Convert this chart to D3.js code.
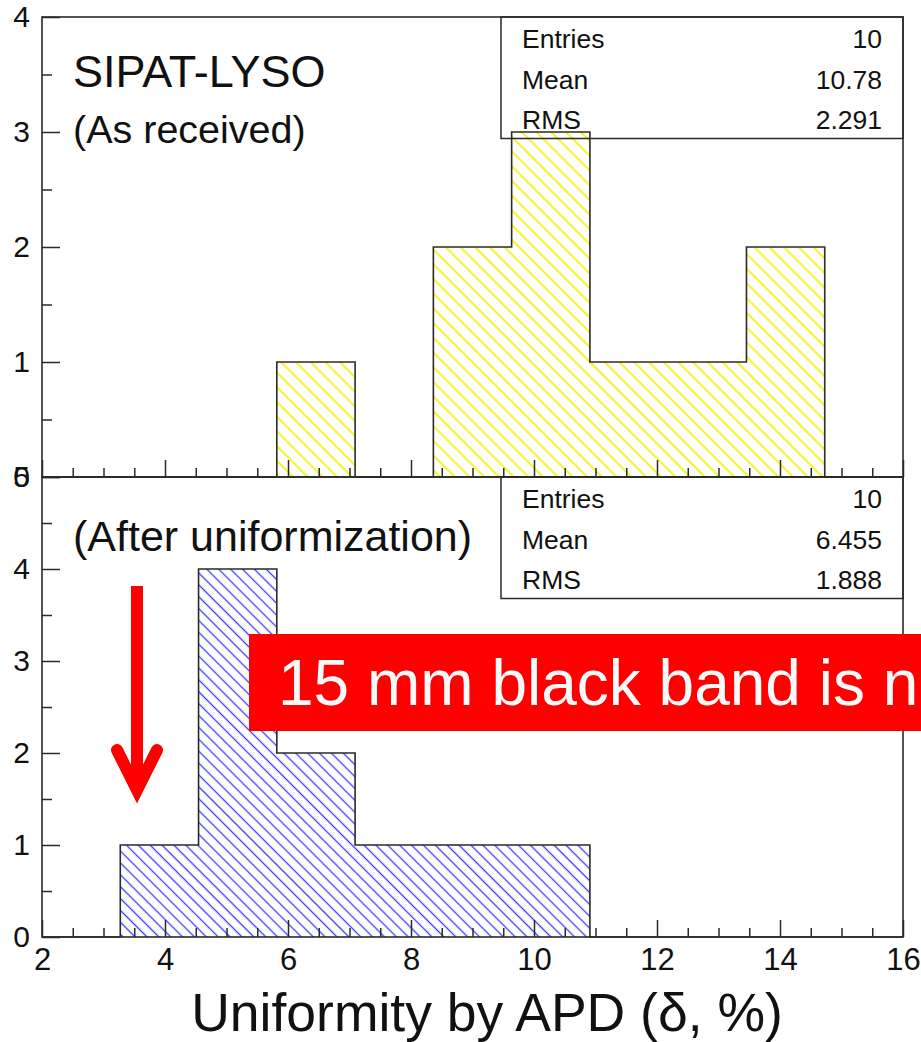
<!DOCTYPE html>
<html><head><meta charset="utf-8">
<script src="https://cdn.jsdelivr.net/npm/d3@7"></script>
<style>
body{margin:0;background:#fff}
svg{display:block;font-family:"Liberation Sans",Arial,Helvetica,sans-serif}
</style>
</head><body><svg id="chart" width="921" height="1042"></svg>
<script>
// Histogram binning (11 equal bins over the axis range)
const binLow = 2, binHigh = 16, binCount = 11;
// Bin contents
const countsAsReceived = [0, 0, 0, 1, 0, 2, 3, 1, 1, 2, 0];
const countsAfter      = [0, 1, 4, 2, 1, 1, 1, 0, 0, 0, 0];
// Statistics boxes
const statsAsReceived = [["Entries", "10"], ["Mean", "10.78"], ["RMS", "2.291"]];
const statsAfter      = [["Entries", "10"], ["Mean", "6.455"], ["RMS", "1.888"]];
// Tick values
const xMajorTicks = [2, 4, 6, 8, 10, 12, 14, 16];
const yTopMajor = [0, 1, 2, 3, 4];
const yBottomMajor = [0, 1, 2, 3, 4, 5];
// Texts
const titleTop = ["SIPAT-LYSO", "(As received)"];
const titleBottom = "(After uniformization)";
const xTitle = "Uniformity by APD (\u03b4, %)";
const bannerText = "15 mm black band is n";

const svg = d3.select("#chart");
const left = 42, right = 903;
const topY0 = 17, topY1 = 477, botY0 = 477, botY1 = 937;
const frameColor = "#2a2a2a";

const x = d3.scaleLinear().domain([binLow, binHigh]).range([left, right]);
const yTop = d3.scaleLinear().domain([0, 4]).range([topY1, topY0]);
const yBot = d3.scaleLinear().domain([0, 5]).range([botY1, botY0]);

const binWidth = (binHigh - binLow) / binCount;
const edges = d3.range(binCount + 1).map(i => binLow + i * binWidth);

// hatch patterns
const defs = svg.append("defs");
function hatch(id, color, spacing, width) {
  const p = defs.append("pattern").attr("id", id)
    .attr("patternUnits", "userSpaceOnUse")
    .attr("width", spacing).attr("height", spacing)
    .attr("patternTransform", "rotate(-45)");
  p.append("line").attr("x1", spacing / 2).attr("y1", -1).attr("x2", spacing / 2).attr("y2", spacing + 1)
    .attr("stroke", color).attr("stroke-width", width);
}
hatch("hatchYellow", "#f2f200", 10.4, 1.7);
hatch("hatchBlue", "#3a3aff", 8.4, 1.3);

function drawHist(counts, y, fillId) {
  const pts = counts.map((c, i) => [edges[i], c]).concat([[edges[binCount], 0]]);
  const area = d3.area().curve(d3.curveStepAfter)
    .x(d => x(d[0])).y0(y(0)).y1(d => y(d[1]));
  const line = d3.line().curve(d3.curveStepAfter)
    .x(d => x(d[0])).y(d => y(d[1]));
  svg.append("path").datum(pts).attr("d", area).attr("fill", `url(#${fillId})`);
  svg.append("path").datum(pts).attr("d", line).attr("fill", "none")
    .attr("stroke", frameColor).attr("stroke-width", 1.6);
}

function statsBox(rows, yTopPx) {
  const bx = 501, bw = right - bx, rowH = 40.5;
  svg.append("rect").attr("x", bx).attr("y", yTopPx).attr("width", bw).attr("height", rowH * 3)
    .attr("fill", "none").attr("stroke", frameColor).attr("stroke-width", 1.5);
  rows.forEach((r, i) => {
    const by = yTopPx + 31 + i * rowH;
    svg.append("text").attr("x", bx + 21).attr("y", by).attr("font-size", 26.5).attr("fill", "#111").text(r[0]);
    svg.append("text").attr("x", right - 21).attr("y", by).attr("font-size", 26.5).attr("fill", "#111")
      .attr("text-anchor", "end").text(r[1]);
  });
}

function styleAxis(g) {
  g.select(".domain").remove();
  g.selectAll(".tick line").attr("stroke", frameColor).attr("stroke-width", 1.5);
  g.selectAll(".tick text").attr("fill", "#111").attr("font-family", "'Liberation Sans',Arial,sans-serif");
}

function halfSteps(lo, hi) { return d3.range(lo * 2, hi * 2 + 1).map(v => v / 2); }

// ---------- upper panel ----------
drawHist(countsAsReceived, yTop, "hatchYellow");
svg.append("g").attr("transform", `translate(${left},0)`)
  .call(d3.axisLeft(yTop).tickValues(halfSteps(0, 4).filter(v => v % 1)).tickSize(-10).tickFormat(""))
  .call(styleAxis);
svg.append("g").attr("transform", `translate(${left},0)`)
  .call(d3.axisLeft(yTop).tickValues(yTopMajor).tickSize(-18).tickPadding(12).tickFormat(d3.format("d")))
  .call(styleAxis).call(g => g.selectAll(".tick text").attr("font-size", 30));
svg.append("g").attr("transform", `translate(0,${topY1})`)
  .call(d3.axisBottom(x).tickValues(halfSteps(2, 16).filter(v => v % 2)).tickSize(-9).tickFormat(""))
  .call(styleAxis);
svg.append("g").attr("transform", `translate(0,${topY1})`)
  .call(d3.axisBottom(x).tickValues(xMajorTicks).tickSize(-17).tickFormat(""))
  .call(styleAxis);
svg.append("rect").attr("x", left).attr("y", topY0).attr("width", right - left).attr("height", topY1 - topY0)
  .attr("fill", "none").attr("stroke", frameColor).attr("stroke-width", 1.6);
statsBox(statsAsReceived, topY0);
svg.append("text").attr("x", 73).attr("y", 87).attr("font-size", 45).attr("fill", "#111").text(titleTop[0]);
svg.append("text").attr("x", 73).attr("y", 143).attr("font-size", 39.5).attr("fill", "#111").text(titleTop[1]);

// ---------- lower panel ----------
drawHist(countsAfter, yBot, "hatchBlue");
svg.append("g").attr("transform", `translate(${left},0)`)
  .call(d3.axisLeft(yBot).tickValues(halfSteps(0, 5).filter(v => v % 1)).tickSize(-10).tickFormat(""))
  .call(styleAxis);
svg.append("g").attr("transform", `translate(${left},0)`)
  .call(d3.axisLeft(yBot).tickValues(yBottomMajor).tickSize(-18).tickPadding(12).tickFormat(d3.format("d")))
  .call(styleAxis).call(g => g.selectAll(".tick text").attr("font-size", 30));
svg.append("g").attr("transform", `translate(0,${botY1})`)
  .call(d3.axisBottom(x).tickValues(halfSteps(2, 16).filter(v => v % 2)).tickSize(-9).tickFormat(""))
  .call(styleAxis);
svg.append("g").attr("transform", `translate(0,${botY1})`)
  .call(d3.axisBottom(x).tickValues(xMajorTicks).tickSize(-17).tickPadding(11).tickFormat(d3.format("d")))
  .call(styleAxis).call(g => g.selectAll(".tick text").attr("font-size", 31));
svg.append("rect").attr("x", left).attr("y", botY0).attr("width", right - left).attr("height", botY1 - botY0)
  .attr("fill", "none").attr("stroke", frameColor).attr("stroke-width", 1.6);
statsBox(statsAfter, botY0);
svg.append("text").attr("x", 73).attr("y", 551).attr("font-size", 43).attr("fill", "#111").text(titleBottom);

// axis title
svg.append("text").attr("x", 487).attr("y", 1031).attr("font-size", 53.5)
  .attr("text-anchor", "middle").attr("fill", "#111").text(xTitle);

// ---------- annotation ----------
svg.append("rect").attr("x", 249).attr("y", 634).attr("width", 700).attr("height", 97).attr("fill", "#ff0000");
svg.append("text").attr("x", 278).attr("y", 705).attr("font-size", 64).attr("fill", "#fafafa").text(bannerText);

const arrow = svg.append("g").attr("stroke", "#ff0000").attr("fill", "none").attr("stroke-width", 12);
arrow.append("line").attr("x1", 137).attr("y1", 586).attr("x2", 137).attr("y2", 792);
arrow.append("polyline").attr("points", "117,750 137,790 157,750")
  .attr("stroke-linejoin", "miter").attr("stroke-miterlimit", 10).attr("stroke-linecap", "round");
</script></body></html>
